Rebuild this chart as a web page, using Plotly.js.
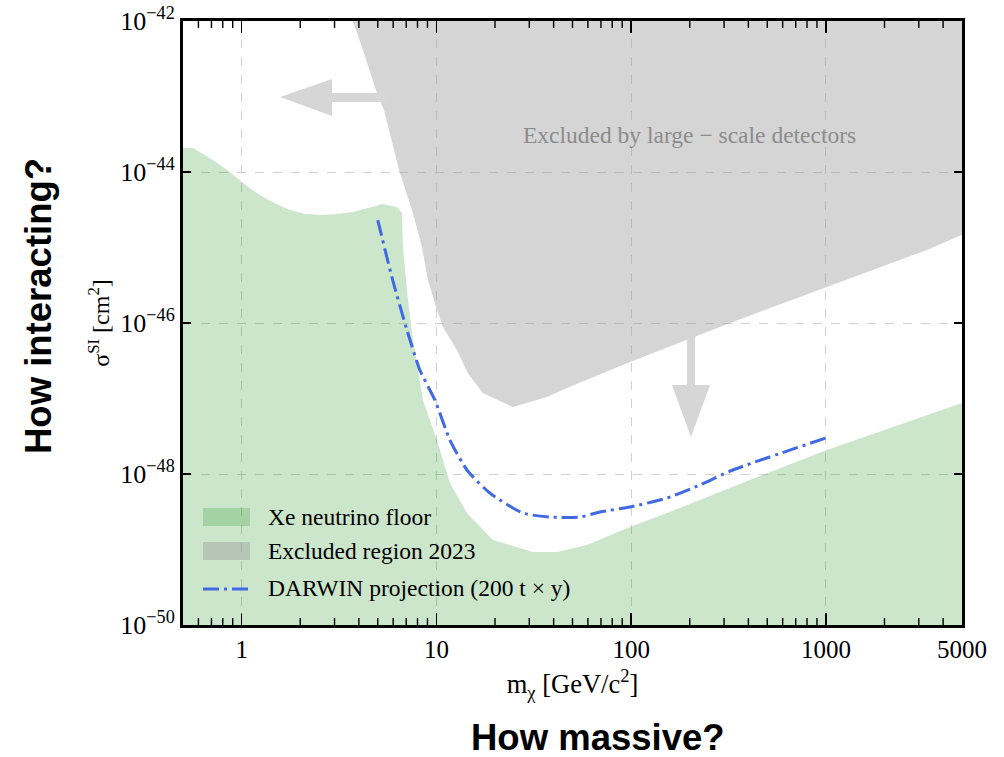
<!DOCTYPE html>
<html><head><meta charset="utf-8">
<script src="https://cdn.plot.ly/plotly-3.0.1.min.js"></script>
<style>html,body{margin:0;padding:0;background:#fff}#chart{width:1004px;height:757px}</style>
</head><body><div id="chart"></div>
<script>
// ---- data ----
const floorMass = [0.5, 0.562, 0.712, 0.85, 0.98, 1.12, 1.29, 1.5, 1.77, 2.1, 2.52, 3.0, 3.73, 4.5, 5.32, 6.27, 6.66, 6.73, 7.06, 7.49, 8.23, 8.53, 10.07, 11.74, 14.36, 19.5, 31.3, 41.6, 59.3, 98.6, 153, 225, 407, 1012, 5000];
const floorSigma = [2.08e-44, 2.08e-44, 1.44e-44, 1.05e-44, 7.8e-45, 5.9e-45, 4.67e-45, 3.8e-45, 3.14e-45, 2.8e-45, 2.69e-45, 2.75e-45, 2.95e-45, 3.35e-45, 3.77e-45, 3.44e-45, 2.86e-45, 1.02e-45, 2.74e-46, 7.4e-47, 1.76e-47, 9.5e-48, 2.82e-48, 7.6e-49, 3.04e-49, 1.34e-49, 9.3e-50, 9.3e-50, 1.15e-49, 1.99e-49, 3.04e-49, 4.53e-49, 8.3e-49, 2.08e-48, 8.7e-48];

const exclMass = [3.73, 4.20, 4.95, 5.38, 6.50, 7.58, 8.43, 9.05, 10.07, 10.8, 12.75, 14.5, 17.3, 24.7, 37.0, 46.8, 98.6, 322, 1012, 3300, 5000];
const exclSigma = [1e-42, 4.13e-43, 1.11e-43, 6.62e-44, 9.7e-45, 2.86e-45, 1.02e-45, 3.7e-46, 1.49e-46, 8.85e-47, 4.39e-47, 2.18e-47, 1.18e-47, 7.7e-48, 1.05e-47, 1.38e-47, 3.04e-47, 1.0e-46, 3.0e-46, 9.3e-46, 1.47e-45];

const darwinMass = [5, 5.91, 7.06, 8.23, 9.83, 11.74, 14.36, 18.8, 27.8, 38.3, 54.6, 69.2, 98.6, 153, 225, 333, 1000];
const darwinSigma = [2.31e-45, 4.06e-46, 8.07e-47, 2.38e-47, 9.5e-48, 2.82e-48, 1.13e-48, 5.6e-49, 3.04e-49, 2.69e-49, 2.69e-49, 3.14e-49, 3.66e-49, 4.81e-49, 7.15e-49, 1.13e-48, 3.0e-48];

const xTickVals = [1, 10, 100, 1000, 5000];
const xTickText = ['1', '10', '100', '1000', '5000'];
const xMinorVals = [0.6, 0.7, 0.8, 0.9, 2, 3, 4, 5, 6, 7, 8, 9, 20, 30, 40, 50, 60, 70, 80, 90, 200, 300, 400, 500, 600, 700, 800, 900, 2000, 3000, 4000];
const yTickVals = [1e-50, 1e-48, 1e-46, 1e-44, 1e-42];
const yTickText = ['10<sup>\u221250</sup>', '10<sup>\u221248</sup>', '10<sup>\u221246</sup>', '10<sup>\u221244</sup>', '10<sup>\u221242</sup>'];

const seriesNames = ['Xe neutrino floor', 'Excluded region 2023', 'DARWIN projection (200 t \u00d7 y)'];

// ---- axis limits ----
const xMin = 0.5, xMax = 5000, yMin = 1e-50, yMax = 1e-42;

const serif = 'Liberation Serif, Times New Roman, serif';
const sans = 'Liberation Sans, Arial, sans-serif';
const greenFill = 'rgba(0,128,0,0.2)';
const grayFill = 'rgba(150,150,150,0.4)';
const blue = 'rgb(65,105,225)';
const dashDot = '16px,5px,3px,5px';

const traces = [
  {
    x: floorMass.concat([xMax, xMin]),
    y: floorSigma.concat([yMin, yMin]),
    type: 'scatter', mode: 'lines', fill: 'toself', fillcolor: greenFill,
    line: {width: 0, color: greenFill}, name: seriesNames[0], showlegend: false, hoverinfo: 'skip'
  },
  {
    x: exclMass.concat([xMax, exclMass[0]]),
    y: exclSigma.concat([yMax, yMax]),
    type: 'scatter', mode: 'lines', fill: 'toself', fillcolor: grayFill,
    line: {width: 0, color: grayFill}, name: seriesNames[1], showlegend: false, hoverinfo: 'skip'
  },
  {
    x: darwinMass, y: darwinSigma,
    type: 'scatter', mode: 'lines',
    line: {color: blue, width: 3, dash: dashDot, shape: 'spline', smoothing: 0.6},
    name: seriesNames[2], showlegend: false
  }
];

// paper coordinate helpers for decorations (plot area 183..962 x 21..625 px)
const P = {l: 183, r: 962, t: 21, b: 625};
const px = v => (v - P.l) / (P.r - P.l);
const py = v => 1 - (v - P.t) / (P.b - P.t);
const logPaperX = v => (Math.log10(v) - Math.log10(xMin)) / (Math.log10(xMax) - Math.log10(xMin));

function poly(pts) {
  return 'M' + pts.map(p => px(p[0]).toFixed(4) + ',' + py(p[1]).toFixed(4)).join(' L') + ' Z';
}
const arrowColor = 'rgb(214,214,214)';

// minor x ticks (bottom and top, inside) as one path each
function minorPath(bottom) {
  const len = 7 / (P.b - P.t);
  return xMinorVals.map(v => {
    const xp = logPaperX(v).toFixed(5);
    return bottom ? ('M' + xp + ',0 L' + xp + ',' + len.toFixed(5))
                  : ('M' + xp + ',1 L' + xp + ',' + (1 - len).toFixed(5));
  }).join(' ');
}

const shapes = [
  // left arrow
  {type: 'path', xref: 'paper', yref: 'paper', layer: 'above',
   path: poly([[280, 97], [332, 79], [332, 93], [388, 93], [388, 102], [332, 102], [332, 116]]),
   fillcolor: arrowColor, line: {width: 0}},
  // down arrow
  {type: 'path', xref: 'paper', yref: 'paper', layer: 'above',
   path: poly([[687, 336], [695, 336], [695, 385], [710, 385], [691, 437], [672, 385], [687, 385]]),
   fillcolor: arrowColor, line: {width: 0}},
  // legend swatches
  {type: 'rect', xref: 'paper', yref: 'paper', layer: 'above',
   x0: px(203), x1: px(250), y0: py(526), y1: py(508), fillcolor: greenFill, line: {width: 0}},
  {type: 'rect', xref: 'paper', yref: 'paper', layer: 'above',
   x0: px(203), x1: px(250), y0: py(560), y1: py(542), fillcolor: grayFill, line: {width: 0}},
  {type: 'line', xref: 'paper', yref: 'paper', layer: 'above',
   x0: px(203), x1: px(251), y0: py(589), y1: py(589), line: {color: blue, width: 3, dash: dashDot}},
  // minor ticks
  {type: 'path', xref: 'paper', yref: 'paper', layer: 'above', path: minorPath(true),
   line: {color: '#000', width: 1.4}, fillcolor: 'rgba(0,0,0,0)'},
  {type: 'path', xref: 'paper', yref: 'paper', layer: 'above', path: minorPath(false),
   line: {color: '#000', width: 1.4}, fillcolor: 'rgba(0,0,0,0)'}
];

const annotations = [
  {xref: 'paper', yref: 'paper', x: px(689), y: py(135), text: 'Excluded by large \u2212 scale detectors',
   showarrow: false, font: {family: serif, size: 23.5, color: 'rgb(140,140,140)'}, xanchor: 'center', yanchor: 'middle'},
  {xref: 'paper', yref: 'paper', x: px(266), y: py(517), text: seriesNames[0], showarrow: false,
   font: {family: serif, size: 23.5, color: '#000'}, xanchor: 'left', yanchor: 'middle'},
  {xref: 'paper', yref: 'paper', x: px(266), y: py(551), text: seriesNames[1], showarrow: false,
   font: {family: serif, size: 23.5, color: '#000'}, xanchor: 'left', yanchor: 'middle'},
  {xref: 'paper', yref: 'paper', x: px(266), y: py(588), text: seriesNames[2], showarrow: false,
   font: {family: serif, size: 23.5, color: '#000'}, xanchor: 'left', yanchor: 'middle'},
  {xref: 'paper', yref: 'paper', x: px(38), y: py(306), text: '<b>How interacting?</b>', textangle: -90,
   showarrow: false, font: {family: sans, size: 36.5, color: '#000'}, xanchor: 'center', yanchor: 'middle'},
  {xref: 'paper', yref: 'paper', x: px(598), y: py(737), text: '<b>How massive?</b>',
   showarrow: false, font: {family: sans, size: 36.5, color: '#000'}, xanchor: 'center', yanchor: 'middle'}
];

const layout = {
  width: 1004, height: 757,
  margin: {l: 183, r: 42, t: 21, b: 132},
  paper_bgcolor: '#fff', plot_bgcolor: '#fff',
  showlegend: false,
  font: {family: serif, color: '#000'},
  xaxis: {
    type: 'log', range: [Math.log10(xMin), Math.log10(xMax)],
    tickmode: 'array', tickvals: xTickVals, ticktext: xTickText,
    ticks: 'inside', ticklen: 12, tickwidth: 1.6, tickcolor: '#000',
    showline: true, linewidth: 3, linecolor: '#000', mirror: 'ticks',
    showgrid: true, gridcolor: '#d2d2d2', griddash: 'dash', gridwidth: 1, zeroline: false,
    tickfont: {family: serif, size: 25, color: '#000'},
    title: {text: 'm<sub>\u03c7</sub> [GeV/c<sup>2</sup>]', font: {family: serif, size: 26.5, color: '#000'}, standoff: 13},
    automargin: false, fixedrange: true
  },
  yaxis: {
    type: 'log', range: [Math.log10(yMin), Math.log10(yMax)],
    tickmode: 'array', tickvals: yTickVals, ticktext: yTickText,
    ticks: 'inside', ticklen: 8, tickwidth: 1.6, tickcolor: '#000',
    showline: true, linewidth: 3, linecolor: '#000', mirror: 'ticks',
    showgrid: true, gridcolor: '#d2d2d2', griddash: 'dash', gridwidth: 1, zeroline: false,
    tickfont: {family: serif, size: 26, color: '#000'},
    title: {text: '\u03c3<sup>SI</sup> [cm<sup>2</sup>]', font: {family: serif, size: 24, color: '#000'}, standoff: 4},
    automargin: false, fixedrange: true
  },
  shapes: shapes,
  annotations: annotations
};

Plotly.newPlot('chart', traces, layout, {displayModeBar: false, staticPlot: true});
</script>
</body></html>
